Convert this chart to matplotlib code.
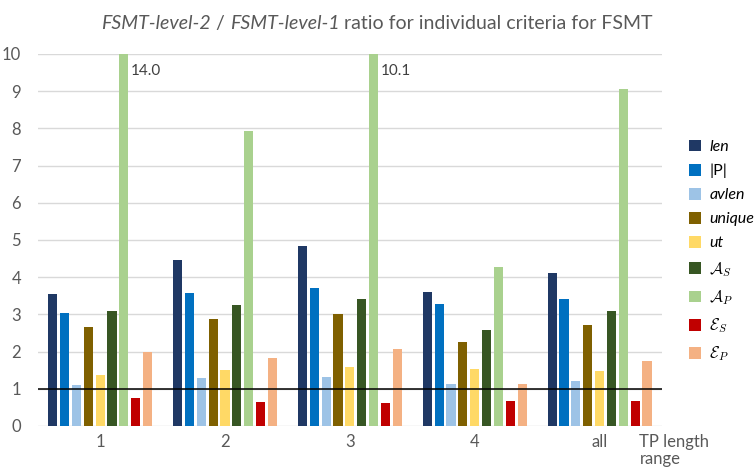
import matplotlib
matplotlib.use("Agg")
import matplotlib.pyplot as plt
import numpy as np

categories = ["1", "2", "3", "4", "all"]
series_names = ["len", "|P|", "avlen", "unique", "ut",
                r"$\mathcal{A}_S$", r"$\mathcal{A}_P$", r"$\mathcal{E}_S$", r"$\mathcal{E}_P$"]
italic_flags = [True, False, True, True, True, False, False, False, False]
colors = ["#1F3864", "#0070C0", "#9DC3E6", "#7F6000", "#FFD966",
          "#375623", "#A9D18E", "#C00000", "#F4B183"]

len_v    = [3.56, 4.45, 4.85, 3.61, 4.12]
P_v      = [3.05, 3.58, 3.72, 3.29, 3.40]
avlen_v  = [1.10, 1.29, 1.32, 1.13, 1.21]
unique_v = [2.67, 2.88, 3.02, 2.26, 2.72]
ut_v     = [1.37, 1.51, 1.59, 1.54, 1.48]
AS_v     = [3.10, 3.26, 3.40, 2.59, 3.10]
AP_v     = [14.0, 7.92, 10.1, 4.26, 9.06]
ES_v     = [0.75, 0.65, 0.62, 0.67, 0.67]
EP_v     = [1.99, 1.83, 2.08, 1.13, 1.75]
series = [len_v, P_v, avlen_v, unique_v, ut_v, AS_v, AP_v, ES_v, EP_v]

plt.rcParams['font.family'] = ['Lato', 'DejaVu Sans']
plt.rcParams['mathtext.fontset'] = 'cm'
txt = "#595959"

fig = plt.figure(figsize=(7.54, 4.73), dpi=100)
ax = fig.add_axes([0.050, 0.0994, 0.828, 0.7866])

x = np.arange(len(categories))
pitch = 0.095
width = 0.073
handles = []
for i, (vals, c) in enumerate(zip(series, colors)):
    off = (i - 4) * pitch
    b = ax.bar(x + off, vals, width, color=c, zorder=2, clip_on=True)
    handles.append(b)
    for xi, v in zip(x, vals):
        if v > 10:
            ax.text(xi + off + width / 2 + 0.02, 9.55, f"{v:.1f}", fontsize=11,
                    color="#404040", ha="left", va="center")

ax.set_ylim(0, 10)
ax.set_xlim(-0.5, 4.5)
ax.set_yticks(range(0, 11))
ax.set_xticks(x)
ax.set_xticklabels(categories)
ax.tick_params(axis='both', length=0, labelsize=12, colors=txt)
ax.tick_params(axis='x', pad=6)
ax.tick_params(axis='y', pad=12)
for s in ax.spines.values():
    s.set_visible(False)
ax.yaxis.grid(True, color="#D9D9D9", linewidth=1, zorder=0)
ax.set_axisbelow(True)
ax.axhline(1, color="black", linewidth=1.1, zorder=3)

# title with mixed italic
fs = 14
t1 = fig.text(0, 0, "FSMT-level-2", fontsize=fs, style="italic", color=txt)
t2 = fig.text(0, 0, " / ", fontsize=fs, color=txt)
t3 = fig.text(0, 0, "FSMT-level-1", fontsize=fs, style="italic", color=txt)
t4 = fig.text(0, 0, " ratio for individual criteria for FSMT", fontsize=fs, color=txt)
fig.canvas.draw()
r = fig.canvas.get_renderer()
parts = [t1, t2, t3, t4]
widths = [p.get_window_extent(r).width for p in parts]
total = sum(widths)
W = fig.bbox.width
xpos = (W - total) / 2
for p, w in zip(parts, widths):
    p.set_position((xpos / W, 0.950))
    p.set_va("center")
    xpos += w

leg = fig.legend(handles, series_names, loc="upper left",
                 bbox_to_anchor=(0.895, 0.735), frameon=False,
                 handlelength=0.75, handleheight=0.75, handletextpad=0.5,
                 labelspacing=0.6, fontsize=11.5)
for t, it in zip(leg.get_texts(), italic_flags):
    t.set_color("black")
    if it:
        t.set_style("italic")

fig.text(0.848, 0.0825, "TP length\nrange", fontsize=12, color=txt,
         ha="left", va="top", linespacing=1.1)

fig.savefig("out.png", dpi=100)
